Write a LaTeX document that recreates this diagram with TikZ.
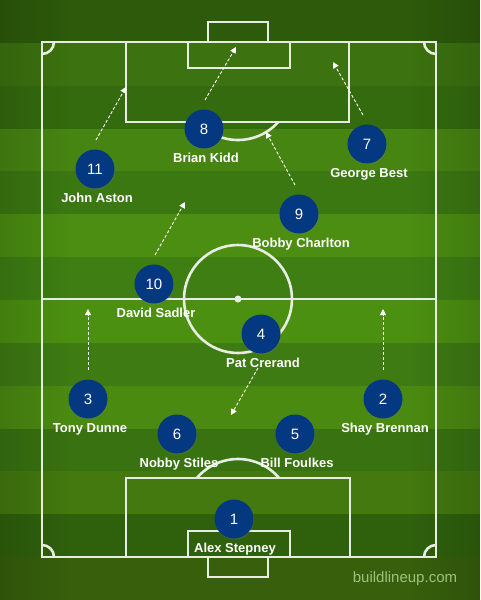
\documentclass[tikz,border=0pt]{standalone}
\usepackage{fontspec}
\setmainfont{Liberation Sans}
\usepackage{tikz}
\usetikzlibrary{arrows.meta, positioning, shadows, fadings}
\definecolor{navy}{RGB}{4,56,128}
\definecolor{linewhite}{RGB}{232,237,226}
\definecolor{credit}{RGB}{156,194,126}
\definecolor{band0}{HTML}{2D5A0B}
\definecolor{band1}{HTML}{3C7210}
\definecolor{band2}{HTML}{346B0E}
\definecolor{band3}{HTML}{478512}
\definecolor{band4}{HTML}{3B7812}
\definecolor{band5}{HTML}{4B8E11}
\definecolor{band6}{HTML}{3E7E13}
\definecolor{band7}{HTML}{4C9011}
\definecolor{band8}{HTML}{3E7B13}
\definecolor{band9}{HTML}{4B8A11}
\definecolor{band10}{HTML}{397211}
\definecolor{band11}{HTML}{43790F}
\definecolor{band12}{HTML}{2F610D}
\definecolor{band13}{HTML}{375F0C}
\tikzstyle{player} = [circle, minimum size=39pt, inner sep=0pt, fill=navy, text=white, font=\fontsize{15}{15}\selectfont, drop shadow={shadow xshift=0.5pt, shadow yshift=-1pt, opacity=0.3}]
\tikzstyle{playername} = [text=white, inner sep=0pt, text height=9.5pt, text depth=2.5pt, font=\bfseries\fontsize{13}{15}\selectfont]
\tikzstyle{pitchline} = [draw=linewhite, line width=2.6pt]
\tikzstyle{arrow} = [white, line width=0.9pt, dash pattern=on 3pt off 2pt, -{Triangle[width=6pt,length=6pt]}]
\tikzstyle{watermark} = [text=credit, inner sep=0pt, font=\fontsize{15}{15}\selectfont]

\begin{document}
\begin{tikzpicture}[x=1pt, y=-1pt]
\useasboundingbox (0,0) rectangle (480,600);

% Grass stripes
\foreach \i in {0,...,13}
  \fill[band\i] (0,{\i*42.857}) rectangle (480,{\i*42.857+43.2});
\fill[black, opacity=0.12, path fading=east] (0,0) rectangle (70,600);
\fill[black, opacity=0.12, path fading=west] (410,0) rectangle (480,600);

% Pitch markings
\draw[pitchline] (42,42) rectangle (436,557);
\draw[pitchline] (42,299) -- (436,299);
\draw[pitchline] (238,299) circle (54);
\fill[linewhite] (238,299) circle (3.5);
\draw[pitchline] (126,42) rectangle (349,122);
\draw[pitchline] (188,42) rectangle (290,68);
\draw[pitchline] (208,22) rectangle (268,42);
\draw[pitchline] (278.25,122) arc[start angle=41.8, end angle=138.2, radius=54];
\draw[pitchline] (126,478) rectangle (350,557);
\draw[pitchline] (188,531) rectangle (290,557);
\draw[pitchline] (208,557) rectangle (268,577);
\draw[pitchline] (279.1,478) arc[start angle=-40.4, end angle=-139.6, radius=54];
\draw[pitchline] (54,42) arc[start angle=0, end angle=90, radius=12];
\draw[pitchline] (424,42) arc[start angle=180, end angle=90, radius=12];
\draw[pitchline] (54,557) arc[start angle=0, end angle=-90, radius=12];
\draw[pitchline] (424,557) arc[start angle=180, end angle=270, radius=12];

% Players
\node (p1) [player] at (234,519) {1};
\node (p2) [player] at (383,399) {2};
\node (p3) [player] at (88,399) {3};
\node (p4) [player] at (261,334) {4};
\node (p5) [player] at (295,434) {5};
\node (p6) [player] at (177,434) {6};
\node (p7) [player] at (367,144) {7};
\node (p8) [player] at (204,129) {8};
\node (p9) [player] at (299,214) {9};
\node (p10) [player] at (154,284) {10};
\node (p11) [player] at (95,169) {11};

% Names
\node (n1) [playername, below=4pt of p1, xshift=1pt] {Alex Stepney};
\node (n2) [playername, below=4pt of p2, xshift=2pt] {Shay Brennan};
\node (n3) [playername, below=4pt of p3, xshift=2pt] {Tony Dunne};
\node (n4) [playername, below=4pt of p4, xshift=2pt] {Pat Crerand};
\node (n5) [playername, below=4pt of p5, xshift=2pt] {Bill Foulkes};
\node (n6) [playername, below=4pt of p6, xshift=2pt] {Nobby Stiles};
\node (n7) [playername, below=4pt of p7, xshift=2pt] {George Best};
\node (n8) [playername, below=4pt of p8, xshift=2pt] {Brian Kidd};
\node (n9) [playername, below=4pt of p9, xshift=2pt] {Bobby Charlton};
\node (n10) [playername, below=4pt of p10, xshift=2pt] {David Sadler};
\node (n11) [playername, below=4pt of p11, xshift=2pt] {John Aston};

% Runs
\coordinate (r2) at (383,309);
\coordinate (r3) at (88,309);
\coordinate (r4) at (231,415);
\coordinate (r7) at (333,62);
\coordinate (r8) at (236,47);
\coordinate (r9) at (266,132);
\coordinate (r10) at (185,202);
\coordinate (r11) at (126,87);
\draw [arrow] ([yshift=29pt]p2.center) -- (r2);
\draw [arrow] ([yshift=29pt]p3.center) -- (r3);
\draw [arrow] ([xshift=-3pt, yshift=-34pt]p4.center) -- (r4);
\draw [arrow] ([xshift=-4pt, yshift=29pt]p7.center) -- (r7);
\draw [arrow] ([xshift=1pt, yshift=29pt]p8.center) -- (r8);
\draw [arrow] ([xshift=-4pt, yshift=29pt]p9.center) -- (r9);
\draw [arrow] ([xshift=1pt, yshift=29pt]p10.center) -- (r10);
\draw [arrow] ([xshift=1pt, yshift=29pt]p11.center) -- (r11);

% Credit
\node (site) [watermark] at (405,579) {buildlineup.com};

\end{tikzpicture}
\end{document}
